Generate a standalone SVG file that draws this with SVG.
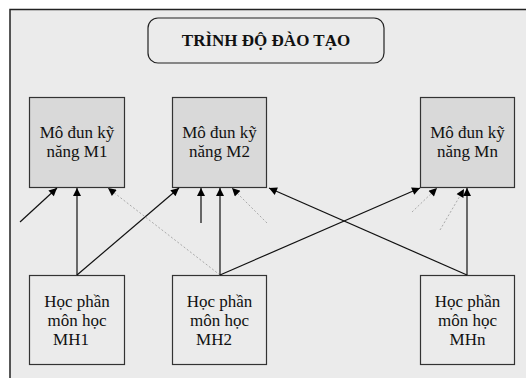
<svg xmlns="http://www.w3.org/2000/svg" width="526" height="378" viewBox="0 0 526 378">
<style>
.frame{fill:#ebebeb;stroke:#222;stroke-width:1.5}
.top{fill:#d9d9d9;stroke:#333;stroke-width:1.2}
.bot{fill:#ebebeb;stroke:#333;stroke-width:1.2}
.t{font-family:"Liberation Serif","Times New Roman",serif;font-size:17px;fill:#111;text-anchor:middle}
.title{font-family:"Liberation Serif","Times New Roman",serif;font-size:17px;font-weight:bold;fill:#111;text-anchor:middle}
.c{stroke:#111;stroke-width:1.2;fill:none;marker-end:url(#ah)}
.g{stroke:#666;stroke-width:2;fill:none;marker-end:url(#ah)}
.d{stroke:#aaa;stroke-width:1;stroke-dasharray:2 2;fill:none;marker-end:url(#ah)}
</style>
<defs>
<marker id="ah" viewBox="0 0 10 10" refX="10" refY="5" markerWidth="10" markerHeight="8" markerUnits="userSpaceOnUse" orient="auto">
<path d="M0,0 L10,5 L0,10 Z" fill="#000"/>
</marker>
</defs>
<rect x="0" y="0" width="526" height="378" fill="#fff"/>
<path d="M10,378 L10,9.5 L526,9.5 L526,378 Z" fill="#ebebeb" stroke="none"/>
<path d="M10,378 L10,9.5 L526,9.5" fill="none" stroke="#222" stroke-width="1.5"/>
<g id="title">
<rect x="148" y="18" width="236" height="45" rx="10" ry="10" fill="#ebebeb" stroke="#222" stroke-width="1.2"/>
<text class="title" x="266" y="46">TRÌNH ĐỘ ĐÀO TẠO</text>
</g>
<g id="M1">
<rect class="top" x="29.5" y="97.5" width="95" height="90"/>
<text class="t" x="77" y="138">Mô đun kỹ</text>
<text class="t" x="77" y="157">năng M1</text>
</g>
<g id="M2">
<rect class="top" x="172.5" y="97.5" width="94" height="90"/>
<text class="t" x="219.5" y="138">Mô đun kỹ</text>
<text class="t" x="219.5" y="157">năng M2</text>
</g>
<g id="Mn">
<rect class="top" x="420.5" y="97.5" width="94" height="90"/>
<text class="t" x="467.5" y="138">Mô đun kỹ</text>
<text class="t" x="467.5" y="157">năng Mn</text>
</g>
<g id="MH1">
<rect class="bot" x="29.5" y="275.5" width="95" height="89"/>
<text class="t" x="77" y="307">Học phần</text>
<text class="t" x="77" y="326">môn học</text>
<text class="t" x="71" y="345">MH1</text>
</g>
<g id="MH2">
<rect class="bot" x="172.5" y="275.5" width="94" height="89"/>
<text class="t" x="219.5" y="307">Học phần</text>
<text class="t" x="219.5" y="326">môn học</text>
<text class="t" x="214" y="345">MH2</text>
</g>
<g id="MHn">
<rect class="bot" x="420.5" y="275.5" width="94" height="89"/>
<text class="t" x="467.5" y="307">Học phần</text>
<text class="t" x="467.5" y="326">môn học</text>
<text class="t" x="467.5" y="345">MHn</text>
</g>
<g id="connectors">
<line class="c" x1="20" y1="222" x2="57" y2="188"/>
<line class="c" x1="77" y1="275" x2="77" y2="188"/>
<line class="c" x1="77" y1="275" x2="179" y2="188"/>
<line class="d" x1="220" y1="275" x2="108" y2="188"/>
<line class="g" x1="201" y1="223" x2="201" y2="188"/>
<line class="c" x1="220" y1="275" x2="220" y2="188"/>
<line class="d" x1="267" y1="223" x2="232" y2="188"/>
<line class="c" x1="220" y1="275" x2="420" y2="188"/>
<line class="c" x1="467" y1="275" x2="269" y2="188"/>
<line class="c" x1="467" y1="275" x2="467" y2="188"/>
<line class="d" x1="412" y1="212" x2="437" y2="188"/>
<line class="d" x1="440" y1="230" x2="464" y2="189"/>
</g>
</svg>
